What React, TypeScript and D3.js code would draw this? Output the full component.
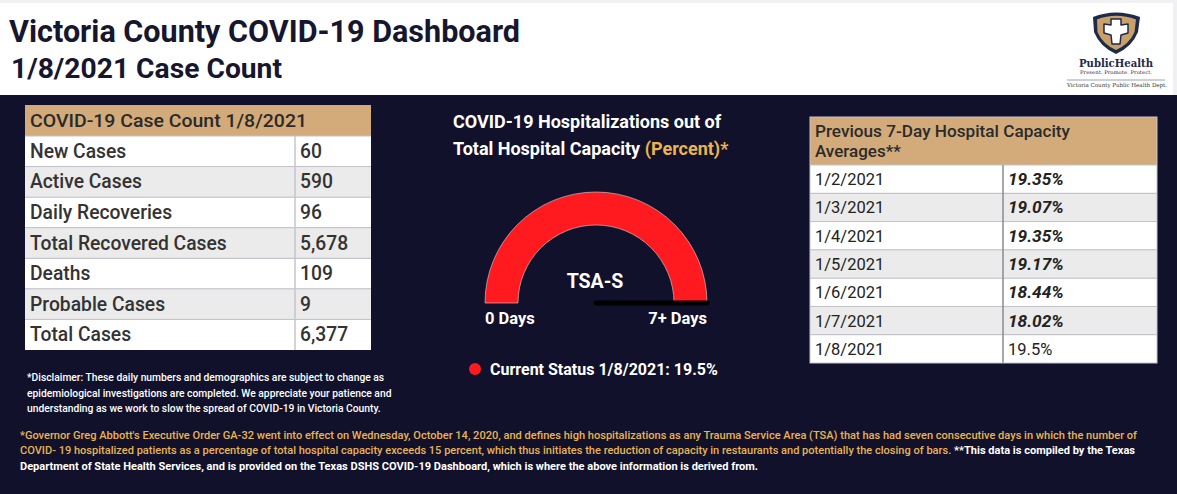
import React from "react";
import * as d3 from "d3";

const W = 1177;
const H = 494;

const titleLines = ["Victoria County COVID-19 Dashboard", "1/8/2021 Case Count"];

const caseHeader = "COVID-19 Case Count 1/8/2021";
const caseLabels = ["New Cases", "Active Cases", "Daily Recoveries", "Total Recovered Cases", "Deaths", "Probable Cases", "Total Cases"];
const caseValues = [60, 590, 96, 5678, 109, 9, 6377];

const capHeader = ["Previous 7-Day Hospital Capacity", "Averages**"];
const capDates = ["1/2/2021", "1/3/2021", "1/4/2021", "1/5/2021", "1/6/2021", "1/7/2021", "1/8/2021"];
const capValues = [19.35, 19.07, 19.35, 19.17, 18.44, 18.02, 19.5];
const capLabels = ["19.35%", "19.07%", "19.35%", "19.17%", "18.44%", "18.02%", "19.5%"];

const gaugeDays = 7;
const gaugeMax = 7;
const gaugeTicks = ["0 Days", "7+ Days"];
const gaugeName = "TSA-S";
const currentStatus = "Current Status 1/8/2021: 19.5%";

const disclaimer = [
  "*Disclaimer: These daily numbers and demographics are subject to change as",
  "epidemiological investigations are completed. We appreciate your patience and",
  "understanding as we work to slow the spread of COVID-19 in Victoria County.",
];

const footer1 = "*Governor Greg Abbott's Executive Order GA-32 went into effect on Wednesday, October 14, 2020, and defines high hospitalizations as any Trauma Service Area (TSA) that has had seven consecutive days in which the number of";
const footer2a = "COVID- 19 hospitalized patients as a percentage of total hospital capacity exceeds 15 percent, which thus initiates the reduction of capacity in restaurants and potentially the closing of bars. ";
const footer2b = "**This data is compiled by the Texas";
const footer3 = "Department of State Health Services, and is provided on the Texas DSHS COVID-19 Dashboard, which is where the above information is derived from.";

const NAVY = "#11112b";
const GOLD = "#d3aa7a";
const TEXTGOLD = "#eab44f";
const RED = "#fe1a1f";
const FONT = "Roboto, 'Noto Sans', sans-serif";

export default function App() {
  // Left table
  const lx0 = 25, lx1 = 371, ldiv = 295;
  const lHeadTop = 105, lHeadBot = 136;
  const lRows = d3.scaleBand<number>().domain(d3.range(caseLabels.length)).range([136, 350]);
  const fmt = d3.format(",");

  // Right table
  const rx0 = 810, rx1 = 1157, rdiv = 1003;
  const rHeadTop = 117, rHeadBot = 165;
  const rRows = d3.scaleBand<number>().domain(d3.range(capDates.length)).range([165, 363]);

  // Gauge
  const cx = 596, cy = 303, rOuter = 111, rInner = 78;
  const angle = d3.scaleLinear().domain([0, gaugeMax]).range([-Math.PI / 2, Math.PI / 2]);
  const arcPath = d3.arc()({
    innerRadius: rInner,
    outerRadius: rOuter,
    startAngle: angle(0),
    endAngle: angle(gaugeDays),
  } as any) as string;
  const needleA = angle(gaugeDays);
  const nx = cx + Math.sin(needleA) * rOuter;
  const ny = cy - Math.cos(needleA) * rOuter;

  return (
    <svg width={W} height={H} style={{ position: "absolute", left: 0, top: 0 }} fontFamily={FONT}>
      <rect x={0} y={0} width={W} height={H} fill="#f1f1f3" />
      <rect x={0} y={3} width={W - 4} height={92} fill="#ffffff" />
      <rect x={0} y={95} width={W} height={H - 95} fill={NAVY} />

      {/* Titles */}
      <text x={9} y={42} fontSize={30.5} fontWeight={700} fill="#16162e" textLength={511} lengthAdjust="spacingAndGlyphs">{titleLines[0]}</text>
      <text x={11} y={78} fontSize={28.3} fontWeight={700} fill="#16162e" textLength={271} lengthAdjust="spacingAndGlyphs">{titleLines[1]}</text>

      {/* Logo */}
      <g>
        <path d="M1093,17 Q1116,8 1140,17 L1138,32 Q1132,47 1116,54 Q1100,47 1094,32 Z" fill="#1e2a4a" />
        <path d="M1097,19.5 Q1116,12 1136,19.5 L1134.5,32 Q1129.5,44 1116,50 Q1102.5,44 1097.5,32 Z" fill="#c9a06a" />
        <path d="M1111,19 L1121,19 L1121,25 L1128,24 L1128,33 L1121,35 L1120,44 L1112,44 L1111,35 L1104,33 L1104,24 L1111,25 Z" fill="#ffffff" stroke="#1e2a4a" strokeWidth={1.5} strokeLinejoin="round" />
        <text x={1116} y={67} textAnchor="middle" fontFamily="'DejaVu Serif', serif" fontSize={11} fontWeight={700} fill="#1e2a4a" textLength={74} lengthAdjust="spacingAndGlyphs">PublicHealth</text>
        <text x={1116} y={73.5} textAnchor="middle" fontFamily="'DejaVu Serif', serif" fontSize={5} fill="#1e2a4a" textLength={72} lengthAdjust="spacingAndGlyphs">Present. Promote. Protect.</text>
        <line x1={1067} x2={1165} y1={80} y2={80} stroke="#7a8aa0" strokeWidth={0.8} />
        <text x={1117} y={87} textAnchor="middle" fontFamily="'DejaVu Serif', serif" fontSize={5.5} fill="#333" textLength={100} lengthAdjust="spacingAndGlyphs">Victoria County Public Health Dept.</text>
      </g>

      {/* Left table */}
      <rect x={lx0} y={lHeadTop} width={lx1 - lx0} height={lHeadBot - lHeadTop} fill={GOLD} />
      <text x={30} y={127} fontSize={19} fontWeight={500} fill="#2a2a2a" textLength={277} lengthAdjust="spacingAndGlyphs">{caseHeader}</text>
      {caseLabels.map((lab, i) => {
        const y = lRows(i)!;
        const h = lRows.bandwidth();
        return (
          <g key={lab}>
            <rect x={lx0} y={y} width={lx1 - lx0} height={h} fill={i % 2 === 0 ? "#ffffff" : "#ebebeb"} />
            <line x1={lx0} x2={lx1} y1={y} y2={y} stroke="#c4c4cc" strokeWidth={1} />
            <text x={30} y={y + h / 2 + 6.5} fontSize={19.3} fontWeight={500} fill="#333">{lab}</text>
            <text x={300} y={y + h / 2 + 6.5} fontSize={19.3} fontWeight={500} fill="#333">{fmt(caseValues[i])}</text>
          </g>
        );
      })}
      <line x1={ldiv} x2={ldiv} y1={lHeadBot} y2={350} stroke="#c4c4cc" strokeWidth={1.5} />

      {/* Gauge */}
      <text x={453} y={128} fontSize={18} fontWeight={700} fill="#ffffff">COVID-19 Hospitalizations out of</text>
      <text x={453} y={155} fontSize={18} fontWeight={700} fill="#ffffff">
        Total Hospital Capacity <tspan fill={TEXTGOLD}>(Percent)*</tspan>
      </text>
      <path d={arcPath} transform={`translate(${cx},${cy})`} fill={RED} stroke="#d8d8d8" strokeWidth={0.6} />
      <text x={cx - 1} y={288} textAnchor="middle" fontSize={19.5} fontWeight={700} fill="#ffffff">{gaugeName}</text>
      <line x1={cx} y1={cy} x2={nx} y2={ny} stroke="#000000" strokeWidth={5} strokeLinecap="round" />
      <text x={cx - rOuter} y={324} fontSize={16.5} fontWeight={700} fill="#ffffff">{gaugeTicks[0]}</text>
      <text x={cx + rOuter} y={324} textAnchor="end" fontSize={16.5} fontWeight={700} fill="#ffffff">{gaugeTicks[1]}</text>
      <circle cx={475} cy={369} r={6} fill={RED} />
      <text x={490} y={375} fontSize={16} fontWeight={700} fill="#ffffff">{currentStatus}</text>

      {/* Right table */}
      <rect x={rx0} y={rHeadTop} width={rx1 - rx0} height={rHeadBot - rHeadTop} fill={GOLD} />
      <text x={815} y={137} fontSize={17} fontWeight={500} fill="#2a2a2a" textLength={255} lengthAdjust="spacingAndGlyphs">{capHeader[0]}</text>
      <text x={815} y={157} fontSize={17} fontWeight={500} fill="#2a2a2a">{capHeader[1]}</text>
      {capDates.map((d, i) => {
        const y = rRows(i)!;
        const h = rRows.bandwidth();
        const last = i === capDates.length - 1;
        return (
          <g key={d}>
            <rect x={rx0} y={y} width={rx1 - rx0} height={h} fill={i % 2 === 0 ? "#ffffff" : "#ebebeb"} />
            <line x1={rx0} x2={rx1} y1={y} y2={y} stroke="#c4c4cc" strokeWidth={1} />
            <text x={815} y={y + h / 2 + 6} fontSize={16.5} fill="#222">{d}</text>
            <text x={1008} y={y + h / 2 + 6} fontSize={last ? 16.5 : 17.3} fontWeight={last ? 400 : 700} fontStyle={last ? "normal" : "italic"} fill="#222" data-v={capValues[i]}>{capLabels[i]}</text>
          </g>
        );
      })}
      <line x1={rdiv} x2={rdiv} y1={rHeadBot} y2={363} stroke="#8a8a92" strokeWidth={1.5} />
      <rect x={rx0} y={rHeadTop} width={rx1 - rx0} height={363 - rHeadTop} fill="none" stroke="#c4c4cc" strokeWidth={1} />

      {/* Disclaimer */}
      {disclaimer.map((t, i) => (
        <text key={i} x={27} y={381 + i * 15.5} fontSize={10.3} fontWeight={500} fill="#ffffff">{t}</text>
      ))}

      {/* Footer */}
      <text x={20} y={439} fontSize={11} fontWeight={500} fill={TEXTGOLD} textLength={1117} lengthAdjust="spacingAndGlyphs">{footer1}</text>
      <text x={20} y={454} fontSize={11} fontWeight={500} fill={TEXTGOLD} textLength={1115} lengthAdjust="spacingAndGlyphs">
        {footer2a}<tspan fill="#ffffff" fontWeight={700}>{footer2b}</tspan>
      </text>
      <text x={20} y={470} fontSize={11} fontWeight={700} fill="#ffffff" textLength={738} lengthAdjust="spacingAndGlyphs">{footer3}</text>
    </svg>
  );
}
